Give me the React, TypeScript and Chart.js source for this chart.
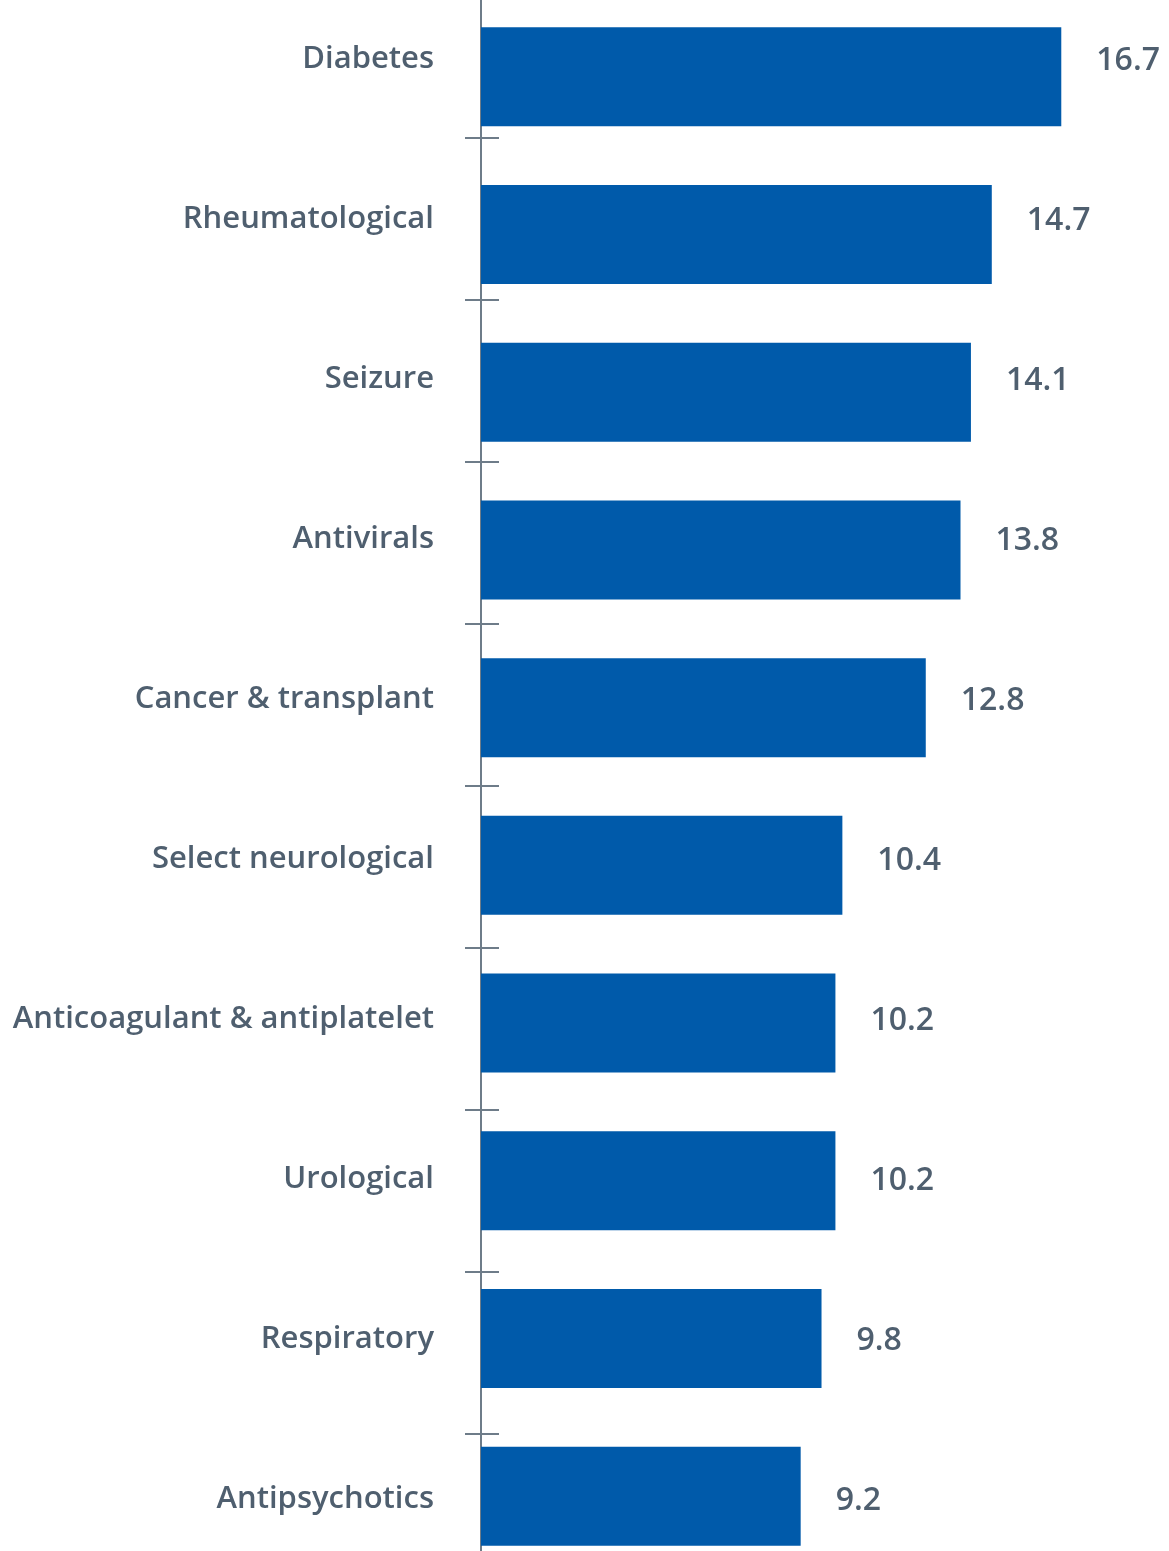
import React, { useEffect, useRef } from "react";
import { Chart, registerables } from "chart.js";

Chart.register(...registerables);

const categories = [
  "Diabetes",
  "Rheumatological",
  "Seizure",
  "Antivirals",
  "Cancer & transplant",
  "Select neurological",
  "Anticoagulant & antiplatelet",
  "Urological",
  "Respiratory",
  "Antipsychotics",
];
const values = [16.7, 14.7, 14.1, 13.8, 12.8, 10.4, 10.2, 10.2, 9.8, 9.2];
const valueLabels = ["16.7", "14.7", "14.1", "13.8", "12.8", "10.4", "10.2", "10.2", "9.8", "9.2"];
const tickMarks = [1, 2, 3, 4, 5, 6, 7, 8, 9];

const BAR_COLOR = "#005aaa";
const TEXT_COLOR = "#4f5f6f";
const AXIS_COLOR = "#6e7c89";
const FONT_FAMILY = "'Open Sans', 'Noto Sans', sans-serif";

const valueLabelPlugin = {
  id: "valueLabels",
  afterDatasetsDraw(chart: any) {
    const ctx = chart.ctx;
    const meta = chart.getDatasetMeta(0);
    const yl = chart.scales.yLabels;
    ctx.save();
    ctx.fillStyle = TEXT_COLOR;
    ctx.font = `600 32px ${FONT_FAMILY}`;
    ctx.textAlign = "left";
    ctx.textBaseline = "middle";
    meta.data.forEach((el: any, i: number) => {
      ctx.fillText(valueLabels[i], el.x + 35, yl.getPixelForValue(i) + 1);
    });
    ctx.restore();
  },
};

const tickMarkPlugin = {
  id: "crossTicks",
  afterDraw(chart: any) {
    const ctx = chart.ctx;
    const yt = chart.scales.yTicks;
    const x0 = chart.chartArea.left;
    ctx.save();
    ctx.strokeStyle = AXIS_COLOR;
    ctx.lineWidth = 2;
    tickMarks.forEach((t) => {
      const py = Math.round(yt.getPixelForValue(t));
      ctx.beginPath();
      ctx.moveTo(x0 - 16, py);
      ctx.lineTo(x0 + 18, py);
      ctx.stroke();
    });
    ctx.restore();
  },
};

export default function App() {
  const ref = useRef<HTMLCanvasElement | null>(null);

  useEffect(() => {
    if (!ref.current) return;
    const chart = new Chart(ref.current, {
      type: "bar",
      data: {
        labels: categories,
        datasets: [
          {
            data: values,
            backgroundColor: BAR_COLOR,
            borderWidth: 0,
            barPercentage: 0.628,
            categoryPercentage: 1,
            yAxisID: "y",
          },
        ],
      },
      options: {
        indexAxis: "y",
        responsive: false,
        animation: false,
        layout: { padding: 0 },
        plugins: {
          legend: { display: false },
          tooltip: { enabled: false },
        },
        scales: {
          x: {
            display: false,
            min: 0,
            max: 19.8,
          },
          y: {
            type: "category",
            display: false,
            offset: true,
          },
          yTicks: {
            type: "linear",
            display: false,
            position: "left",
            reverse: true,
            offset: false,
            min: 0.1358,
            max: 9.87,
          },
          yLabels: {
            type: "linear",
            position: "left",
            reverse: true,
            offset: false,
            min: -0.3844,
            max: 9.472,
            afterFit: (scale: any) => {
              scale.width = 481;
              scale.paddingTop = 0;
              scale.paddingBottom = 0;
            },
            grid: {
              display: true,
              offset: false,
              drawOnChartArea: false,
              drawTicks: false,
              color: "rgba(0,0,0,0)",
            },
            border: { display: true, color: AXIS_COLOR, width: 2 },
            ticks: {
              stepSize: 1,
              includeBounds: false,
              autoSkip: false,
              padding: 47,
              color: TEXT_COLOR,
              font: { family: FONT_FAMILY, size: 31, weight: 600 as any },
              callback: (v: any) => (Number.isInteger(v) ? categories[v] ?? "" : ""),
            },
          },
        },
      },
      plugins: [valueLabelPlugin, tickMarkPlugin],
    });
    return () => chart.destroy();
  }, []);

  return (
    <div
      style={{
        position: "absolute",
        left: 0,
        top: 0,
        width: 1169,
        height: 1551,
        overflow: "hidden",
        background: "#fff",
      }}
    >
      <div style={{ position: "absolute", left: 0, top: -2, width: 1169, height: 1577 }}>
        <canvas ref={ref} width={1169} height={1577} />
      </div>
    </div>
  );
}
